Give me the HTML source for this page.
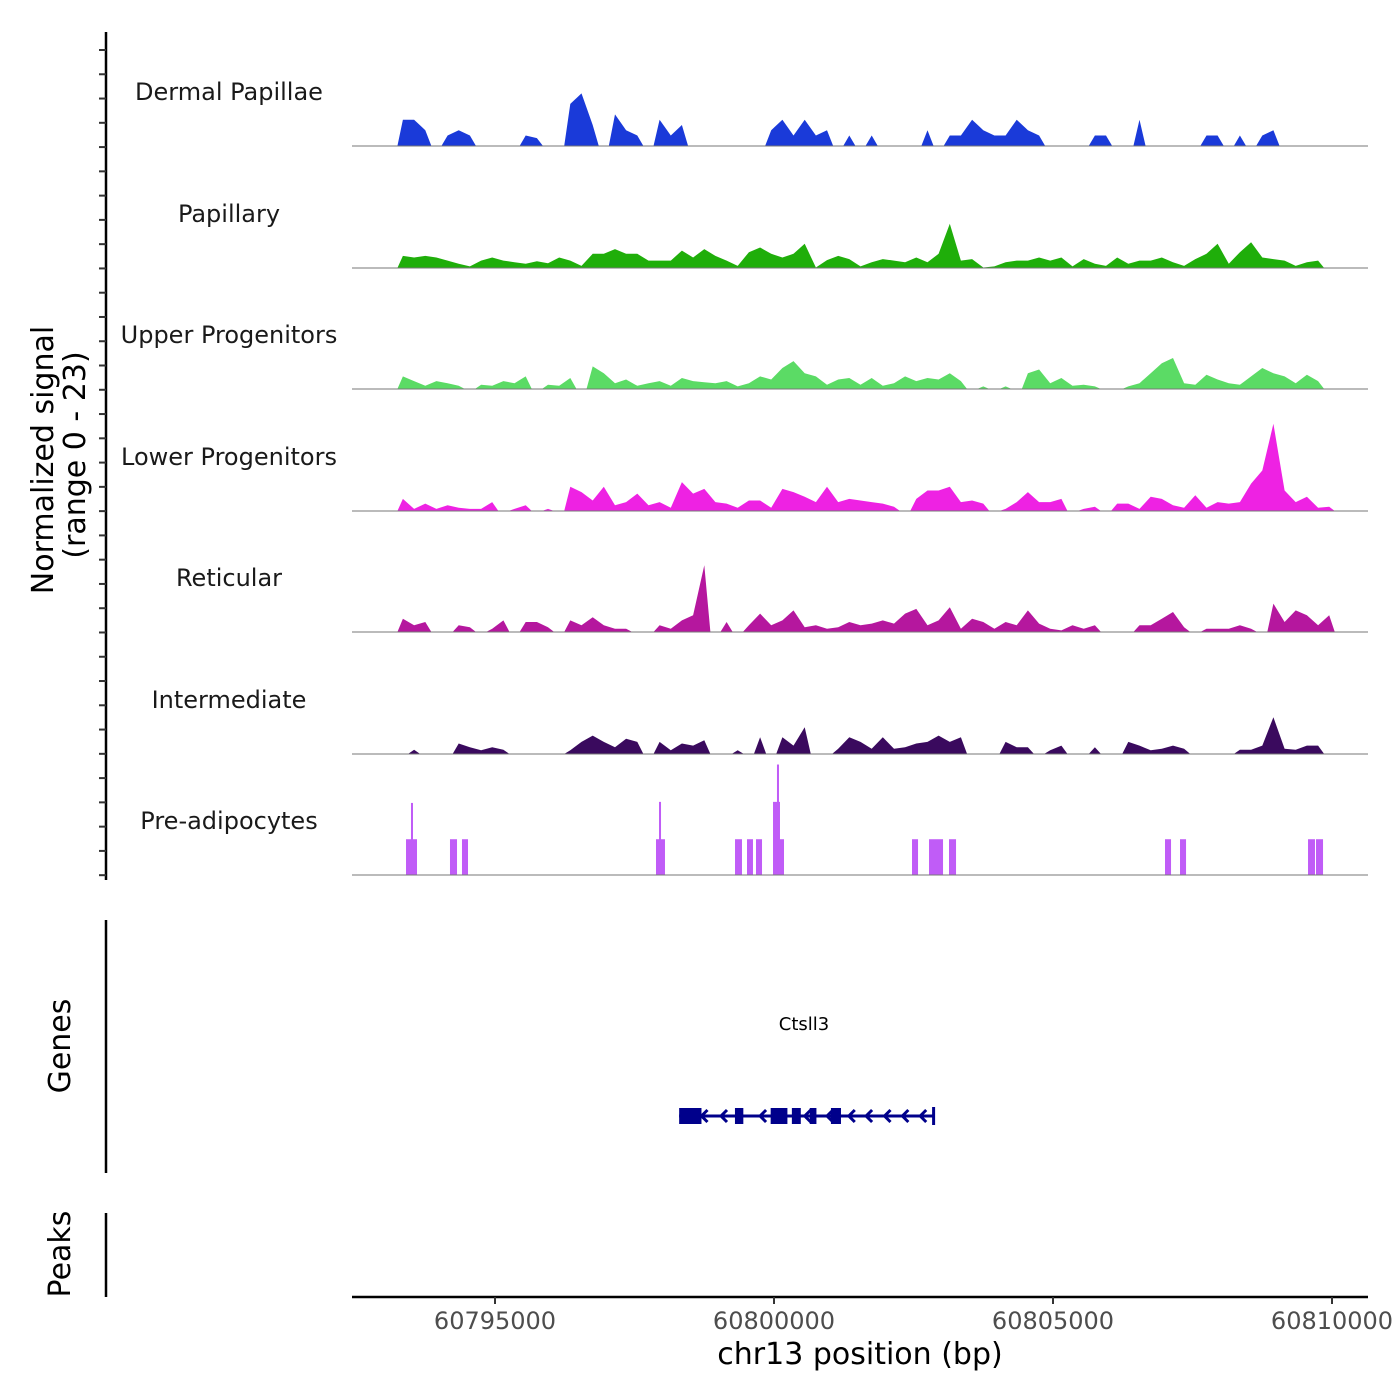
<!DOCTYPE html>
<html><head><meta charset="utf-8"><style>
html,body{margin:0;padding:0;background:#fff;}
svg{display:block;font-family:"DejaVu Sans","Liberation Sans",sans-serif;}
</style></head><body>
<svg id="chart" width="1400" height="1400" viewBox="0 0 1400 1400" xmlns="http://www.w3.org/2000/svg"></svg>
<script>
const trackNames = ["Dermal Papillae","Papillary","Upper Progenitors","Lower Progenitors","Reticular","Intermediate","Pre-adipocytes"];
const trackColors = ["#1a3ad9","#1fae0a","#5bdb65","#ee22e3","#b5179e","#3a0a5e","#c05cf7"];
const binStart = 60793250;
const binSize = 200;
const dermalPapillae = [5,5,3,0,2,3,2,0,0,0,0,2,1.5,0,0,8,10,4,0,6,3,2,0,5,2,4,0,0,0,0,0,0,0,3,5,2,5,2,3,0,2,0,2,0,0,0,0,3,0,2,2,5,3,2,2,5,3,2,0,0,0,0,2,2,0,0,5,0,0,0,0,0,2,2,0,2,0,2,3,0,0,0,0,0];
const papillary = [2.3,2,2.3,2,1.4,0.8,0.3,1.4,2,1.4,1.1,0.8,1.3,0.9,2,1.4,0.4,2.7,2.7,3.6,2.7,2.7,1.4,1.4,1.4,3.3,2,3.6,2.3,1.4,0.4,3,3.9,2.7,2,2.7,4.6,0.1,1.5,2.3,1.7,0.3,1.1,1.7,1.4,1.1,2,1.1,2.7,8.4,1.4,1.7,0.1,0.3,1.1,1.4,1.4,2,1.4,2,0.3,1.7,0.8,0.4,2,0.8,1.4,1.4,2,1.1,0.4,1.7,2.7,4.6,0.8,3,4.9,2,1.7,1.4,0.4,1.1,1.4,0];
const upperProgenitors = [2.4,1.5,0.6,1.5,1.1,0.6,0,0.8,0.6,1.5,1.1,2.4,0,0.8,0.6,2.1,0,4.3,3,1.1,1.8,0.6,1.1,1.5,0.6,2.1,1.5,1.3,1.1,1.5,0.5,1.1,2.4,1.8,4,5.3,3,2.4,0.8,1.8,2.1,0.8,2.1,0.6,1.1,2.4,1.5,2.1,1.8,3,1.5,0,0.5,0,0.5,0,3,3.7,1.1,2.1,0.6,0.8,0.5,0,0,0.5,1.1,3,4.9,5.9,1.1,0.8,2.7,1.8,1.1,0.8,2.4,4,3,2.4,1.1,2.7,1.5,0];
const lowerProgenitors = [2.3,0.4,1.4,0.4,1.1,0.6,0.4,0.4,1.7,0,0.4,1.1,0,0.4,0,4.6,3.6,2,4.6,1.1,1.7,3.3,1.1,1.7,0.6,5.5,3.3,4.2,1.7,1.4,0.6,2,2,0.6,4.2,3.6,2.7,1.7,4.6,1.7,2.3,2,1.7,1.4,0.8,0,2.3,3.9,3.9,4.6,1.7,2,1.4,0,0.4,1.7,3.6,1.7,1.7,2.3,0,0.4,0.8,0,1.4,1.4,0.4,2.7,2.3,1.1,0.6,3,0.6,1.7,1.4,1.7,5.2,7.7,16.6,3.9,1.7,2.7,0.6,0.8];
const reticular = [2.5,1.3,1.9,0,0,1.3,0.9,0,0.6,2.2,0,1.9,1.9,0.9,0,2.2,1.3,2.8,1.3,0.6,0.6,0,0,1.3,0.6,2.2,3.2,12.7,0,1.9,0,1.3,3.5,1.3,2.2,4.1,0.9,1.3,0.6,0.9,1.9,1.3,1.6,2.2,1.6,3.5,4.4,1.3,2.2,4.7,0.6,2.5,1.9,0.6,1.9,1.3,4.1,1.6,0.6,0.3,1.3,0.6,1.3,0,0,0,1.3,1.3,2.5,3.8,0.9,0,0.6,0.6,0.6,1.3,0.6,0,5.4,1.9,4.1,3.2,1.3,3.2];
const intermediate = [0,0.8,0,0,0,2,1.3,0.7,1.3,0.8,0,0,0,0,0,0.7,2.3,3.5,2.3,1.3,2.9,2.3,0,2.3,0.7,2,1.6,2.6,0,0,0.7,0,3.2,0,3.2,1.6,5.1,0,0,1,3.2,2.3,1,3.2,1,1.3,2,2.3,3.5,2.3,3.2,0,0,0,2.3,1.3,1.3,0,0.7,1.6,0,0,1.3,0,0,2.3,1.6,0.7,1,1.6,1,0,0,0,0,0.8,0.8,1.6,7,1,0.8,1.6,1.6,0];
const binTracks = [dermalPapillae,papillary,upperProgenitors,lowerProgenitors,reticular,intermediate];
const preStart = [60793405,60793494,60794193,60794408,60797885,60797939,60799301,60799516,60799677,60799982,60800053,60800107,60802473,60802778,60803136,60807007,60807276,60809570,60809713];
const preEnd   = [60793602,60793530,60794319,60794516,60798046,60797975,60799426,60799623,60799785,60800107,60800089,60800179,60802581,60803029,60803262,60807115,60807384,60809695,60809839];
const preValue = [6.8,13.7,6.8,6.8,6.8,13.9,6.8,6.8,6.8,13.9,21,6.8,6.8,6.8,6.8,6.8,6.8,6.8,6.8];
const xTicks = [60795000,60800000,60805000,60810000];
const exonStart = [60798300,60798620,60799300,60799940,60800320,60800640,60801020];
const exonEnd   = [60798640,60798700,60799450,60800240,60800480,60800760,60801200];
const geneStart = 60798300, geneEnd = 60802860;
const arrowPos = [60798700,60799050,60799750,60800550,60800950,60801340,60801650,60801980,60802300,60802620];

const NS = "http://www.w3.org/2000/svg";
const svg = document.getElementById("chart");
function mk(tag, attrs, parent){const e=document.createElementNS(NS,tag);for(const k in attrs)e.setAttribute(k,attrs[k]);(parent||svg).appendChild(e);return e;}
const X0=352,X1=1368,BP0=60792437,PXBP=0.0558;
function xs(bp){return X0+(bp-BP0)*PXBP;}
const baselines=[146,268,389,511,632,754,875];
const trackH=121, yMax=23;
function ys(v,t){return baselines[t]-v/yMax*trackH;}

// left axis
const la=mk("line",{x1:106,y1:32,x2:106,y2:880,stroke:"#000","stroke-width":2.5});


for(let i=0;i<35;i++){const y=50+i*24.27;const t=mk("line",{x1:99,y1:y,x2:106,y2:y,stroke:"#333","stroke-width":2});

}
const yt=mk("text",{x:0,y:0,transform:"translate(53,460) rotate(-90)","text-anchor":"middle","font-size":30});


yt.textContent="Normalized signal";
const yt2=mk("text",{x:0,y:0,transform:"translate(85,455) rotate(-90)","text-anchor":"middle","font-size":30});


yt2.textContent="(range 0 - 23)";

// tracks
for(let t=0;t<7;t++){
  const lb=mk("text",{x:229,y:baselines[t]-46,"text-anchor":"middle","font-size":24,fill:"#1a1a1a"});
  
  
  lb.textContent=trackNames[t];
  const g=mk("g",{});
  
  
  if(t<6){
    const arr=binTracks[t];
    let d="M"+xs(binStart).toFixed(1)+","+baselines[t];
    for(let i=0;i<arr.length;i++){
      const c=binStart+(i+0.5)*binSize;
      if(arr[i]===0){d+=" L"+xs(c-binSize*0.45).toFixed(1)+","+baselines[t]+" L"+xs(c+binSize*0.45).toFixed(1)+","+baselines[t];}
      else d+=" L"+xs(c).toFixed(1)+","+ys(arr[i],t).toFixed(1);
    }
    d+=" L"+xs(binStart+arr.length*binSize).toFixed(1)+","+baselines[t]+" Z";
    const p=mk("path",{d:d,fill:trackColors[t]},g);
    
    
  } else {
    for(let i=0;i<preStart.length;i++){
      const x=xs(preStart[i]),w=Math.max(1.2,xs(preEnd[i])-x);
      const r=mk("rect",{x:x,y:ys(preValue[i],t),width:w,height:baselines[t]-ys(preValue[i],t),fill:trackColors[t]},g);
      
      
    }
  }
  const bl=mk("line",{x1:X0,y1:baselines[t],x2:X1,y2:baselines[t],stroke:"#777","stroke-width":1});
  
  
}

// genes panel
const ga=mk("line",{x1:106,y1:920,x2:106,y2:1173,stroke:"#000","stroke-width":2.5});


const gt=mk("text",{x:0,y:0,transform:"translate(70,1046) rotate(-90)","text-anchor":"middle","font-size":30});


gt.textContent="Genes";
const gl=mk("text",{x:804,y:1030,"text-anchor":"middle","font-size":18});


gl.textContent="Ctsll3";
const gene=mk("g",{});


const gline=mk("line",{x1:xs(geneStart),y1:1116,x2:xs(geneEnd),y2:1116,stroke:"#00008b","stroke-width":3},gene);


for(let i=0;i<exonStart.length;i++){
  const x=xs(exonStart[i]),w=xs(exonEnd[i])-x;
  const e=mk("rect",{x:x,y:1108,width:w,height:16,fill:"#00008b"},gene);
  
  
}
for(const a of arrowPos){
  const x=xs(a);
  const ar=mk("polyline",{points:(x+6)+",1110 "+x+",1116 "+(x+6)+",1122",fill:"none",stroke:"#00008b","stroke-width":3},gene);
  
  
}
const endt=mk("line",{x1:xs(geneEnd),y1:1107,x2:xs(geneEnd),y2:1125,stroke:"#00008b","stroke-width":3},gene);



// peaks panel
const pa=mk("line",{x1:106,y1:1213,x2:106,y2:1297,stroke:"#000","stroke-width":2.5});


const pt=mk("text",{x:0,y:0,transform:"translate(70,1254) rotate(-90)","text-anchor":"middle","font-size":30});


pt.textContent="Peaks";

// x axis
const xa=mk("line",{x1:X0,y1:1297,x2:X1,y2:1297,stroke:"#000","stroke-width":2.5});


for(const v of xTicks){
  const x=xs(v);
  const tk=mk("line",{x1:x,y1:1297,x2:x,y2:1304,stroke:"#333","stroke-width":2});
  
  
  const tl=mk("text",{x:x,y:1329,"text-anchor":"middle","font-size":24,fill:"#4d4d4d"});
  
  
  tl.textContent=String(v);
}
const xt=mk("text",{x:860,y:1364,"text-anchor":"middle","font-size":30});


xt.textContent="chr13 position (bp)";
</script>
</body></html>
